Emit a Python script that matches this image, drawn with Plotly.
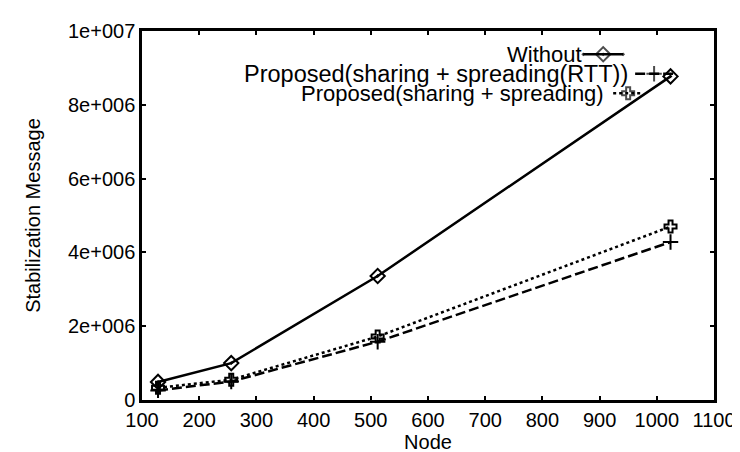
import plotly.graph_objects as go

nodes = [128, 256, 512, 1024]
without = [0.49e6, 1.0e6, 3.36e6, 8.77e6]
rtt = [0.26e6, 0.50e6, 1.58e6, 4.28e6]
spreading = [0.33e6, 0.55e6, 1.72e6, 4.70e6]

series_names = ["Without",
                "Proposed(sharing + spreading(RTT))",
                "Proposed(sharing + spreading)"]

x_tick_vals = [100, 200, 300, 400, 500, 600, 700, 800, 900, 1000, 1100]
y_tick_vals = [0, 2e6, 4e6, 6e6, 8e6, 1e7]
y_tick_text = ["0", "2e+006", "4e+006", "6e+006", "8e+006", "1e+007"]

FONT = "Liberation Sans, Arial, sans-serif"
FS = 20
W, H = 740, 452
L, R, T, B = 134, 33, 12, 60

styles = [
    dict(dash="solid", symbol="diamond-open-dot", size=11),
    dict(dash="10px,4px", symbol="cross-thin", size=11),
    dict(dash="3px,3px", symbol="cross-open", size=10),
]

fig = go.Figure()
for name, ys, st in zip(series_names, [without, rtt, spreading], styles):
    fig.add_trace(go.Scatter(
        x=nodes, y=ys, mode="lines+markers", name=name, showlegend=False,
        line=dict(color="black", width=2.5, dash=st["dash"]),
        marker=dict(symbol=st["symbol"], size=st["size"], color="black",
                    line=dict(color="black", width=2)),
    ))

# gnuplot-style key: text then line sample, positioned in page pixels (x2/y2)
key_text_center = [537, 429, 445]
key_font_sizes = [22, 23.5, 22]
key_rows_y = [36, 56, 76]
key_lines = [(576, 616), (628, 666), (606, 636)]
for name, cx, kfs, ky, (x0, x1), st in zip(series_names, key_text_center,
                                            key_font_sizes, key_rows_y,
                                            key_lines, styles):
    fig.add_annotation(x=cx, y=ky, xref="x2", yref="y2", text=name,
                       showarrow=False, xanchor="center", yanchor="middle",
                       font=dict(family=FONT, size=kfs, color="black"))
    fig.add_trace(go.Scatter(
        x=[x0, (x0 + x1) / 2, x1], y=[ky, ky, ky], xaxis="x2", yaxis="y2",
        mode="lines+markers", showlegend=False, hoverinfo="skip",
        line=dict(color="black", width=2.5, dash=st["dash"]),
        marker=dict(symbol=st["symbol"], size=[0, st["size"], 0], color="black",
                    line=dict(color="black", width=2)),
    ))

axis_common = dict(showline=True, linecolor="black", linewidth=2.5, mirror="allticks",
                   ticks="inside", ticklen=4, tickwidth=2, tickcolor="black",
                   showgrid=False, zeroline=False,
                   tickfont=dict(family=FONT, size=FS, color="black"))

fig.update_layout(
    width=W, height=H,
    margin=dict(l=L, r=R, t=T, b=B),
    paper_bgcolor="white", plot_bgcolor="white",
    font=dict(family=FONT, size=FS, color="black"),
    xaxis=dict(range=[100, 1100], tickvals=x_tick_vals,
               title=dict(text="Node", standoff=1,
                          font=dict(family=FONT, size=FS, color="black")),
               **axis_common),
    yaxis=dict(range=[0, 1e7], tickvals=y_tick_vals, ticktext=y_tick_text,
               title=dict(text="Stabilization Message", standoff=22,
                          font=dict(family=FONT, size=FS, color="black")),
               **axis_common),
    xaxis2=dict(range=[L, W - R], overlaying="x", visible=False, fixedrange=True),
    yaxis2=dict(range=[H - B, T], overlaying="y", visible=False, fixedrange=True),
)

fig.write_html("out.html")
